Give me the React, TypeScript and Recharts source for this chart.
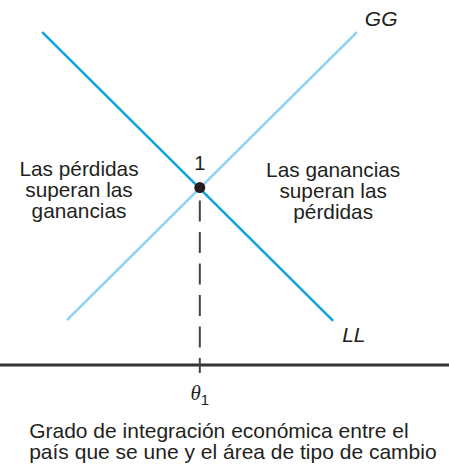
import { LineChart, Line, XAxis, YAxis, ReferenceLine, ReferenceDot } from "recharts";

// Curves (x: degree of integration, y: gains/losses)
const LL_X = [0.94, 7.42];
const LL_Y = [9.12, 1.21];
const GG_X = [1.49, 7.95];
const GG_Y = [1.23, 9.12];
const EQ_X = 4.45;
const EQ_Y = 4.86;

const LEFT_TEXT = ["Las pérdidas", "superan las", "ganancias"];
const RIGHT_TEXT = ["Las ganancias", "superan las", "pérdidas"];
const AXIS_TITLE = [
  "Grado de integración económica entre el",
  "país que se une y el área de tipo de cambio",
];

const llData = LL_X.map((x, i) => ({ x, y: LL_Y[i] }));
const ggData = GG_X.map((x, i) => ({ x, y: GG_Y[i] }));

const FONT = "'Liberation Sans', Arial, Helvetica, sans-serif";

function textShape(
  lines: string[],
  opts: { size: number; lh?: number; italic?: boolean; anchor?: string }
) {
  return (p: any) => (
    <text
      x={p.cx}
      y={p.cy}
      fontFamily={FONT}
      fontSize={opts.size}
      fontStyle={opts.italic ? "italic" : "normal"}
      textAnchor={opts.anchor ?? "middle"}
      fill="#231f20"
    >
      {lines.map((l, i) => (
        <tspan key={i} x={p.cx} dy={i === 0 ? 0 : opts.lh ?? 21}>
          {l}
        </tspan>
      ))}
    </text>
  );
}

const thetaShape = (p: any) => (
  <text
    x={p.cx}
    y={p.cy}
    fontFamily="'Liberation Serif', 'Times New Roman', serif"
    fontSize={21}
    textAnchor="middle"
    fill="#231f20"
  >
    <tspan fontStyle="italic">θ</tspan>
    <tspan fontFamily={FONT} fontSize={15} dy={5}>
      1
    </tspan>
  </text>
);

export default function App() {
  return (
    <div style={{ position: "absolute", left: 0, top: 0, background: "#fff" }}>
      <LineChart
        width={449}
        height={464}
        margin={{ top: 0, right: 0, bottom: 99, left: 0 }}
      >
        <XAxis type="number" dataKey="x" domain={[0, 10]} hide />
        <YAxis type="number" dataKey="y" domain={[0, 10]} hide />
        <ReferenceLine y={0} stroke="#333333" strokeWidth={3} />
        <ReferenceLine
          segment={[
            { x: EQ_X, y: EQ_Y },
            { x: EQ_X, y: -0.22 },
          ]}
          ifOverflow="visible"
          stroke="#444444"
          strokeWidth={2}
          strokeDasharray="21 10.5"
          strokeDashoffset={18.5}
        />
        <Line
          data={ggData}
          dataKey="y"
          stroke="#8ed3f1"
          strokeWidth={2.6}
          dot={false}
          activeDot={false}
          isAnimationActive={false}
        />
        <Line
          data={llData}
          dataKey="y"
          stroke="#12a3e3"
          strokeWidth={2.6}
          dot={false}
          activeDot={false}
          isAnimationActive={false}
        />
        <ReferenceDot x={EQ_X} y={EQ_Y} r={5.5} fill="#231f20" stroke="none" />
        <ReferenceDot x={EQ_X} y={5.34} r={0} shape={textShape(["1"], { size: 20 })} />
        <ReferenceDot x={8.49} y={9.29} r={0} shape={textShape(["GG"], { size: 21, italic: true })} />
        <ReferenceDot x={7.88} y={0.63} r={0} shape={textShape(["LL"], { size: 21, italic: true })} />
        <ReferenceDot x={1.76} y={5.18} r={0} shape={textShape(LEFT_TEXT, { size: 20.8 })} />
        <ReferenceDot x={7.42} y={5.15} r={0} shape={textShape(RIGHT_TEXT, { size: 20.8 })} />
        <ReferenceDot x={EQ_X} y={-0.96} r={0} ifOverflow="visible" shape={thetaShape} />
        <ReferenceDot
          x={0.65}
          y={-2.01}
          r={0}
          ifOverflow="visible"
          shape={textShape(AXIS_TITLE, { size: 21, lh: 21, anchor: "start" })}
        />
      </LineChart>
    </div>
  );
}
